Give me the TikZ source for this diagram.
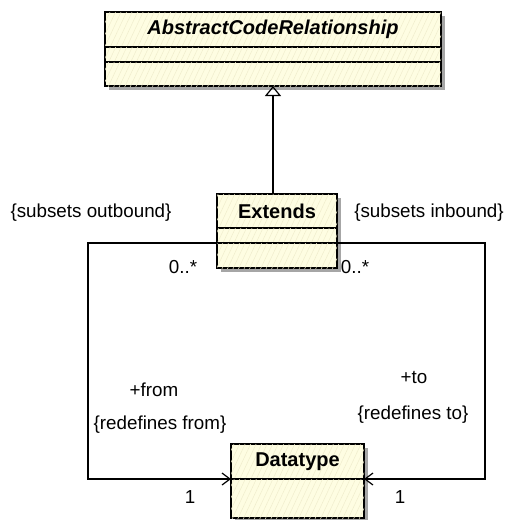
\documentclass[tikz,border=0pt]{standalone}
\usepackage{fontspec}
\setmainfont{Liberation Sans}
\usetikzlibrary{positioning,arrows.meta,shadows,patterns.meta}

\definecolor{clsfill}{RGB}{254,253,226}
\definecolor{hatch}{RGB}{240,237,205}

\begin{document}
\begin{tikzpicture}[x=1pt,y=-1pt,
  cls/.style={draw, line width=1.2pt, fill=clsfill, inner sep=0pt, outer sep=0pt,
    postaction={pattern={Lines[angle=65,distance=5pt,line width=0.5pt]}, pattern color=hatch},
    drop shadow={opacity=1, fill=black!35, shadow xshift=4pt, shadow yshift=-4pt}},
  clsname/.style={cls, font=\bfseries\fontsize{20}{24}\selectfont},
  conn/.style={line width=1.2pt},
  lbl/.style={font=\fontsize{18.8}{22}\selectfont, inner sep=0pt}]
  \useasboundingbox (0,0) rectangle (508,520);

  % AbstractCodeRelationship
  \node[clsname, font=\bfseries\itshape\fontsize{20}{24}\selectfont, minimum width=336pt, minimum height=35pt] (acr) at (273,29.5) {AbstractCodeRelationship};
  \node[cls, minimum width=336pt, minimum height=15pt, below=0pt of acr] (acrattr) {};
  \node[cls, minimum width=336pt, minimum height=24pt, below=0pt of acrattr] (acrops) {};

  % Extends
  \node[clsname, minimum width=120pt, minimum height=34pt] (ext) at (277,211) {Extends};
  \node[cls, minimum width=120pt, minimum height=15pt, below=0pt of ext] (extattr) {};
  \node[cls, minimum width=120pt, minimum height=25pt, below=0pt of extattr] (extops) {};

  % Datatype
  \node[clsname, minimum width=133pt, minimum height=35pt] (dt) at (297.5,461.5) {Datatype};
  \node[cls, minimum width=133pt, minimum height=39pt, below=0pt of dt] (dtattr) {};

  % Generalization
  \draw[conn, -{Triangle[open, width=16pt, length=10pt, line width=1.2pt]}] (acrops.south |- ext.north) -- (acrops.south);

  % Associations
  \coordinate (lcorner) at (88,243);
  \coordinate (rcorner) at (485,243);
  \draw[conn, -{Straight Barb[length=8pt, width=12pt, line width=1.2pt]}] (extattr.south west) -- (lcorner) |- (dt.south west);
  \draw[conn, -{Straight Barb[length=8pt, width=12pt, line width=1.2pt]}] (extattr.south east) -- (rcorner) |- (dt.south east);

  % Association end labels
  \node[lbl] (subout) at (91,213) {\{subsets outbound\}};
  \node[lbl] (subin) at (429,213) {\{subsets inbound\}};
  \node[lbl] (multl) at (183,267) {0..*};
  \node[lbl] (multr) at (355,267) {0..*};
  \node[lbl] (from) at (154,390) {+from};
  \node[lbl] (redfrom) at (160,425) {\{redefines from\}};
  \node[lbl] (to) at (414,378) {+to};
  \node[lbl] (redto) at (413,415) {\{redefines to\}};
  \node[lbl] (onel) at (190,497) {1};
  \node[lbl] (oner) at (400,497) {1};
\end{tikzpicture}
\end{document}
